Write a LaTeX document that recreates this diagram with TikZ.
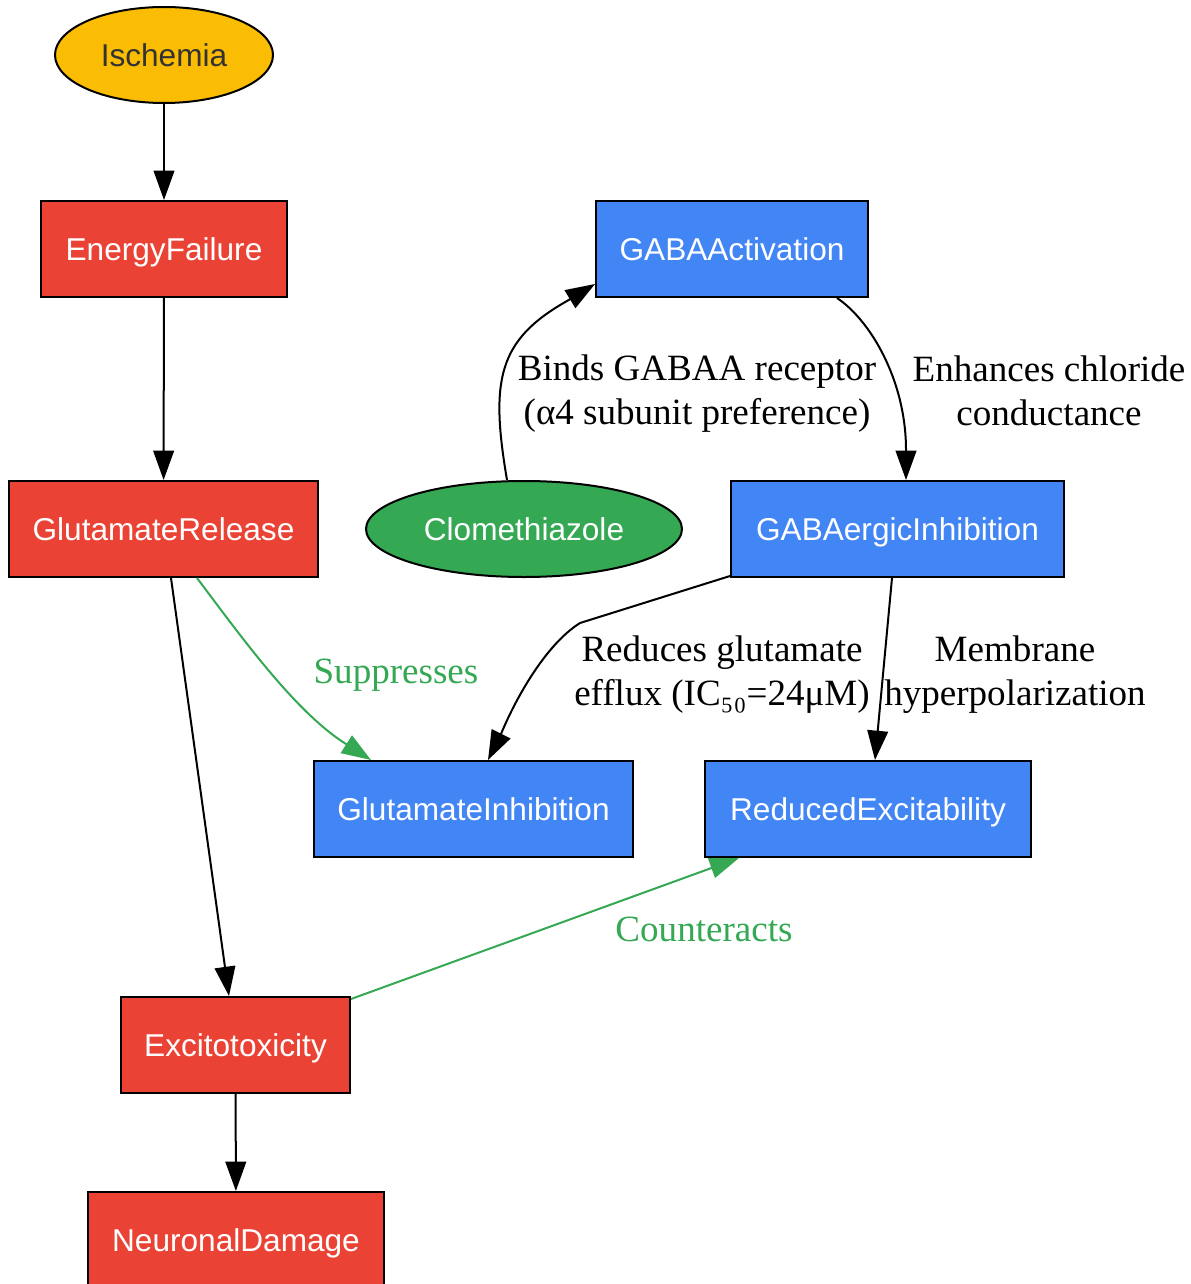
\documentclass[tikz,border=0pt]{standalone}
\usepackage{fontspec}
\setmainfont{Liberation Serif}
\newfontfamily\nodefont{Liberation Sans}
\usetikzlibrary{shapes.geometric,arrows.meta}

\definecolor{gred}{HTML}{EA4335}
\definecolor{gblue}{HTML}{4285F4}
\definecolor{ggreen}{HTML}{34A853}
\definecolor{gyellow}{HTML}{FBBC04}

\def\u{0.75pt}

\tikzset{
  box/.style={draw=black,line width=1.5pt,rectangle,inner sep=0pt,minimum height=96*\u,text height=17pt,text depth=0pt,text=white,font=\nodefont\fontsize{23.7}{28}\selectfont},
  oval/.style={box,ellipse,minimum height=96*\u},
  arr/.style={line width=1.5pt,-{Triangle[length=22pt,width=15.5pt]}},
  lbl/.style={align=center,inner sep=0pt,font=\fontsize{27.8}{33}\selectfont}
}

\begin{document}
\begin{tikzpicture}[x=0.75pt,y=-0.75pt]
      	\useasboundingbox (0,0) rectangle (1191,1284);

      	% left column
      	\node[oval,fill=gyellow,text=black!80,minimum width=218*\u] (isch) at (164,55) {Ischemia};
      	\node[box,fill=gred,minimum width=246*\u] (energy) at (164,249) {EnergyFailure};
      	\node[box,fill=gred,minimum width=309*\u] (glurel) at (163.5,529) {GlutamateRelease};
      	\node[box,fill=gred,minimum width=229*\u] (excito) at (235.5,1045) {Excitotoxicity};
      	\node[box,fill=gred,minimum width=296*\u] (neuro) at (236,1240) {NeuronalDamage};

      	% drug side
      	\node[box,fill=gblue,minimum width=272*\u] (gabaact) at (732,249) {GABAActivation};
      	\node[oval,fill=ggreen,minimum width=316*\u] (clome) at (524,529) {Clomethiazole};
      	\node[box,fill=gblue,minimum width=333*\u] (gabainh) at (897.5,529) {GABAergicInhibition};
      	\node[box,fill=gblue,minimum width=319*\u] (gluinh) at (473.5,809) {GlutamateInhibition};
      	\node[box,fill=gblue,minimum width=326*\u] (redex) at (868,809) {ReducedExcitability};

      	\draw[arr] (isch) -- (energy);
      	\draw[arr] (energy) -- (glurel);
      	\draw[arr] ([xshift=7.5*\u]glurel.south) -- ([xshift=-6.5*\u]excito.north);
      	\draw[arr] (excito) -- (neuro);

      	\draw[arr,ggreen] ([xshift=33.5*\u]glurel.south) .. controls (240,635) and (295,712) .. (346,744) -- ([xshift=58*\u]gluinh.north west);
      	\node[lbl,text=ggreen] (suplbl) at (396,675) {Suppresses};

      	\draw[arr] ([xshift=-17*\u]clome.north) .. controls (490,380) and (498,340) .. (567,301) -- ([yshift=-35*\u]gabaact.west);
      	\node[lbl] (bindlbl) at (697,394) {Binds GABAA receptor\\(α4 subunit preference)};

      	\draw[arr] ([xshift=105*\u]gabaact.south) .. controls (870,320) and (906,380) .. (906,450) -- ([xshift=8.5*\u]gabainh.north);
      	\node[lbl] (chllbl) at (1049,391) {Enhances chloride\\conductance};

      	\draw[arr] ([yshift=2*\u]gabainh.south west) -- (580,623) .. controls (545,645) and (515,700) .. (501,734) -- ([xshift=14.5*\u]gluinh.north);
      	\node[lbl] (redlbl) at (722,675) {Reduces glutamate\\efflux (IC₅₀=24μM)};

      	\draw[arr] ([xshift=-5.5*\u]gabainh.south) -- ([xshift=7*\u]redex.north);
      	\node[lbl] (memlbl) at (1015,675) {Membrane\\hyperpolarization};

      	\draw[arr,ggreen] ([yshift=-3*\u]excito.north east) -- ([xshift=35*\u]redex.south west);
      	\node[lbl,text=ggreen] (ctrlbl) at (704,929) {Counteracts};
	\end{tikzpicture}
\end{document}
